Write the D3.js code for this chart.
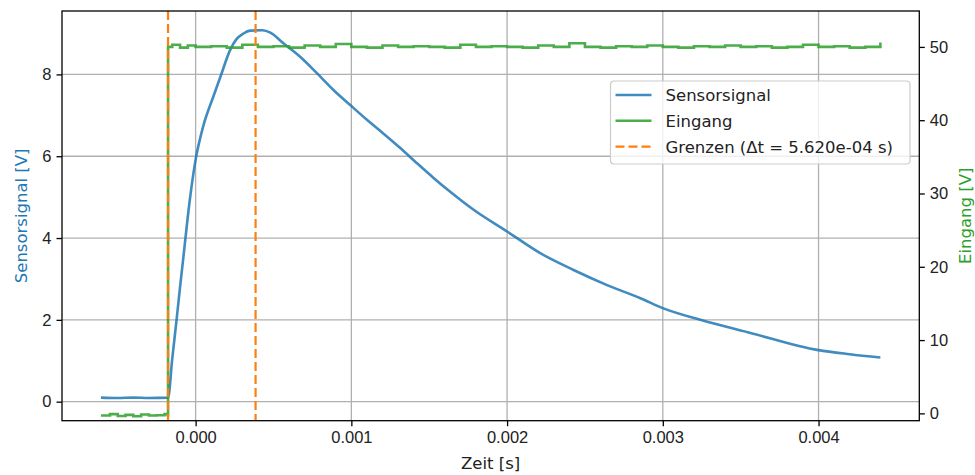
<!DOCTYPE html>
<html>
<head>
<meta charset="utf-8">
<script src="https://cdn.jsdelivr.net/npm/d3@7"></script>
<style>
    body { margin: 0; background: #fff; }
    svg { font-family: "DejaVu Sans", sans-serif; }
    .tick text { font-size: 16.5px; fill: #222; }
</style>
</head>
<body>
<svg class="chart" width="975" height="475"></svg>
<script>
// Sensorsignal (V) ueber Zeit (s)
var sensorZeit = [-0.000608, -0.0005, -0.0004, -0.0003, -0.000177, -0.00015, -0.000121, -0.0001, -0.000078, -0.00004,
    -0.000003, 0.00005, 0.000114, 0.00016, 0.000222, 0.00026, 0.000307, 0.00035, 0.00043, 0.00048,
    0.000564, 0.000671, 0.000779, 0.000885, 0.000993, 0.0011, 0.001207, 0.001314, 0.001421, 0.001528,
    0.001635, 0.001785, 0.002, 0.002213, 0.002427, 0.002642, 0.002856, 0.003004, 0.003241, 0.003563,
    0.003999, 0.0042, 0.004397];
var sensorWert = [0.10, 0.09, 0.10, 0.09, 0.10, 1.05, 2.05, 2.8, 3.55, 4.85,
    5.85, 6.75, 7.46, 7.95, 8.6, 8.85, 9.0, 9.07, 9.08, 9.02,
    8.76, 8.43, 8.03, 7.62, 7.25, 6.89, 6.55, 6.2, 5.83, 5.47,
    5.13, 4.69, 4.16, 3.63, 3.22, 2.85, 2.53, 2.28, 2.0, 1.68,
    1.26, 1.16, 1.08];

// Eingang (V) ueber Zeit (s)
var eingangZeit = [-0.000608, -0.00055, -0.0005, -0.00045, -0.0004, -0.00035, -0.0003, -0.00025, -0.0002, -0.000178,
    -0.000177, -0.00015, -0.0001, -0.00005, 0, 0.0001, 0.0002, 0.0003, 0.0004, 0.0005,
    0.0006, 0.0007, 0.0008, 0.0009, 0.001, 0.0011, 0.0012, 0.0013, 0.0014, 0.0015,
    0.0016, 0.0017, 0.0018, 0.0019, 0.002, 0.0021, 0.0022, 0.0023, 0.0024, 0.0025,
    0.0026, 0.0027, 0.0028, 0.0029, 0.003, 0.0031, 0.0032, 0.0033, 0.0034, 0.0035,
    0.0036, 0.0037, 0.0038, 0.0039, 0.004, 0.0041, 0.0042, 0.0043, 0.004397];
var eingangWert = [-0.3, -0.1, -0.35, -0.2, -0.4, -0.15, -0.3, -0.25, -0.1, -0.3,
    50.0, 50.3, 49.9, 50.2, 50.0, 50.1, 49.9, 50.3, 50.0, 50.1,
    49.9, 50.2, 50.0, 50.4, 50.0, 49.9, 50.2, 50.0, 50.1, 50.0,
    49.9, 50.3, 50.0, 50.1, 50.0, 49.9, 50.2, 50.0, 50.5, 50.0,
    49.9, 50.1, 50.0, 50.2, 50.0, 49.9, 50.1, 50.0, 50.2, 50.0,
    50.1, 49.9, 50.0, 50.3, 50.0, 50.1, 49.9, 50.0, 50.6];

// Grenzen (s)
var grenzen = [-0.000177, 0.000385];

var xTicks = [0, 0.001, 0.002, 0.003, 0.004];
var yLinksTicks = [0, 2, 4, 6, 8];
var yRechtsTicks = [0, 10, 20, 30, 40, 50];

var legende = ["Sensorsignal", "Eingang", "Grenzen (\u0394t = 5.620e-04 s)"];

var farbeBlau = "#1f77b4", farbeGruen = "#2ca02c", farbeOrange = "#ff7f0e";

var margin = { top: 11, right: 55.7, bottom: 54.3, left: 62 };
var width = 975 - margin.left - margin.right;
var height = 475 - margin.top - margin.bottom;

var svg = d3.select(".chart");
var g = svg.append("g").attr("transform", "translate(" + margin.left + "," + margin.top + ")");

var x = d3.scaleLinear().domain([-0.000858, 0.004647]).range([0, width]);
var yL = d3.scaleLinear().domain([-0.465, 9.55]).range([height, 0]);
var yR = d3.scaleLinear().domain([-1.0, 54.9]).range([height, 0]);

// Gitter
g.append("g").selectAll("line").data(xTicks).enter().append("line")
    .attr("x1", (d) => x(d)).attr("x2", (d) => x(d))
    .attr("y1", 0).attr("y2", height)
    .attr("stroke", "#b0b0b0").attr("stroke-width", 1.3);
g.append("g").selectAll("line").data(yLinksTicks).enter().append("line")
    .attr("x1", 0).attr("x2", width)
    .attr("y1", (d) => yL(d)).attr("y2", (d) => yL(d))
    .attr("stroke", "#b0b0b0").attr("stroke-width", 1.3);

// Linien
var sensorDaten = sensorZeit.map((t, i) => [t, sensorWert[i]]);
var eingangDaten = eingangZeit.map((t, i) => [t, eingangWert[i]]);

g.append("path").datum(sensorDaten)
    .attr("fill", "none").attr("stroke", farbeBlau).attr("stroke-opacity", 0.85)
    .attr("stroke-width", 2.6).attr("stroke-linejoin", "round")
    .attr("d", d3.line().curve(d3.curveMonotoneX).x((d) => x(d[0])).y((d) => yL(d[1])));

g.append("path").datum(eingangDaten)
    .attr("fill", "none").attr("stroke", farbeGruen).attr("stroke-opacity", 0.85)
    .attr("stroke-width", 2.6)
    .attr("d", d3.line().curve(d3.curveStepAfter).x((d) => x(d[0])).y((d) => yR(d[1])));

g.append("g").selectAll("line").data(grenzen).enter().append("line")
    .attr("x1", (d) => x(d)).attr("x2", (d) => x(d))
    .attr("y1", 0).attr("y2", height)
    .attr("stroke", farbeOrange).attr("stroke-width", 2.2)
    .attr("stroke-dasharray", "9,4");

// Achsen
var fmt = d3.format(".3f");
g.append("g").attr("class", "x axis")
    .attr("transform", "translate(0," + height + ")")
    .call(d3.axisBottom(x).tickValues(xTicks).tickFormat(fmt).tickSize(5.5).tickPadding(5));
g.append("g").attr("class", "y axis")
    .call(d3.axisLeft(yL).tickValues(yLinksTicks).tickFormat(d3.format("d")).tickSize(5.5).tickPadding(5));
g.append("g").attr("class", "y axis")
    .attr("transform", "translate(" + width + ",0)")
    .call(d3.axisRight(yR).tickValues(yRechtsTicks).tickFormat(d3.format("d")).tickSize(5.5).tickPadding(5));

g.selectAll(".axis .domain").remove();
g.selectAll(".axis .tick line").attr("stroke", "#000").attr("stroke-width", 1.3);

g.append("rect").attr("x", 0).attr("y", 0).attr("width", width).attr("height", height)
    .attr("fill", "none").attr("stroke", "#000").attr("stroke-width", 1.3);

// Beschriftungen
svg.append("text").attr("x", margin.left + width / 2).attr("y", 469)
    .attr("text-anchor", "middle").attr("font-size", "16.5px").attr("fill", "#222")
    .text("Zeit [s]");
svg.append("text")
    .attr("transform", "translate(27," + (margin.top + height / 2) + ") rotate(-90)")
    .attr("text-anchor", "middle").attr("font-size", "16.5px").attr("fill", farbeBlau)
    .text("Sensorsignal [V]");
svg.append("text")
    .attr("transform", "translate(971," + (margin.top + height / 2) + ") rotate(-90)")
    .attr("text-anchor", "middle").attr("font-size", "16.5px").attr("fill", farbeGruen)
    .text("Eingang [V]");

// Legende
var leg = svg.append("g").attr("transform", "translate(610.5,81)");
leg.append("rect").attr("width", 299.5).attr("height", 83).attr("rx", 3.5)
    .attr("fill", "#fff").attr("fill-opacity", 0.8)
    .attr("stroke", "#cccccc").attr("stroke-width", 1.2);
var legFarben = [farbeBlau, farbeGruen, farbeOrange];
var eintrag = leg.selectAll(".eintrag").data(legende).enter().append("g")
    .attr("class", "eintrag")
    .attr("transform", (d, i) => "translate(0," + (14 + i * 25.8) + ")");
eintrag.append("line").attr("x1", 5).attr("x2", 41)
    .attr("stroke", (d, i) => legFarben[i])
    .attr("stroke-opacity", (d, i) => i < 2 ? 0.85 : 1)
    .attr("stroke-width", (d, i) => i < 2 ? 2.6 : 2.2)
    .attr("stroke-dasharray", (d, i) => i == 2 ? "9,4" : null);
eintrag.append("text").attr("x", 55).attr("dy", "0.36em")
    .attr("font-size", "16.5px").attr("fill", "#222")
    .text((d) => d);
</script>
</body>
</html>
